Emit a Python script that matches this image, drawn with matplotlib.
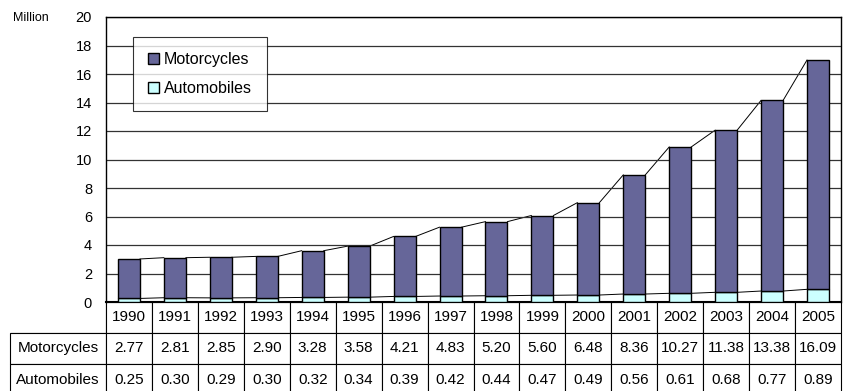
import matplotlib.pyplot as plt

plt.rcParams['font.family'] = ['Liberation Sans', 'DejaVu Sans']

YEARS = [str(y) for y in range(1990, 2006)]
MOTORCYCLES = [2.77, 2.81, 2.85, 2.90, 3.28, 3.58, 4.21, 4.83, 5.20, 5.60,
               6.48, 8.36, 10.27, 11.38, 13.38, 16.09]
AUTOMOBILES = [0.25, 0.30, 0.29, 0.30, 0.32, 0.34, 0.39, 0.42, 0.44, 0.47,
               0.49, 0.56, 0.61, 0.68, 0.77, 0.89]

MOTO_COLOR = '#666699'
AUTO_COLOR = '#ccffff'
BAR_WIDTH = 0.48


def series_lines(ax, tops):
    """Connect the top corners of neighbouring bars like Excel series lines."""
    half = BAR_WIDTH / 2
    for i in range(len(tops) - 1):
        ax.plot([i + half, i + 1 - half], [tops[i], tops[i + 1]],
                color='black', lw=0.7, zorder=1)


fig = plt.figure(figsize=(8.44, 3.91), dpi=100)
W, H = 844, 391
left, right, top, bottom = 106, 841, 17, 302
ax = fig.add_axes([left / W, 1 - bottom / H, (right - left) / W,
                   (bottom - top) / H])

x = list(range(len(YEARS)))
totals = [m + a for m, a in zip(MOTORCYCLES, AUTOMOBILES)]

ax.bar(x, AUTOMOBILES, BAR_WIDTH, color=AUTO_COLOR, edgecolor='black',
       lw=1.0, label='Automobiles', zorder=3)
ax.bar(x, MOTORCYCLES, BAR_WIDTH, bottom=AUTOMOBILES, color=MOTO_COLOR,
       edgecolor='black', lw=1.0, label='Motorcycles', zorder=3)
series_lines(ax, AUTOMOBILES)
series_lines(ax, totals)

ax.set_xlim(-0.5, len(YEARS) - 0.5)
ax.set_ylim(0, 20)
ax.set_yticks(range(0, 21, 2))
ax.tick_params(axis='y', length=0, labelsize=10.5, pad=10)
ax.set_xticks([])
ax.grid(axis='y', color='#333333', lw=0.9, zorder=0)
for side in ['top', 'left', 'right']:
    ax.spines[side].set_linewidth(1.0)
ax.spines['bottom'].set_linewidth(1.5)

fig.text(13 / W, 1 - 18 / H, 'Million', fontsize=9, va='center')

handles, labels = ax.get_legend_handles_labels()
leg = ax.legend(handles[::-1], labels[::-1], loc='upper left',
                bbox_to_anchor=((133 - left) / (right - left),
                                1 - (37 - top) / (bottom - top)),
                fontsize=11.5, frameon=True, fancybox=False, borderpad=0.95,
                handlelength=0.7, handleheight=0.7, handletextpad=0.3,
                labelspacing=0.85, borderaxespad=0)
leg.get_frame().set_edgecolor('black')
leg.get_frame().set_linewidth(0.8)

# data table under the plot
label_w = (106 - 10) / (right - left)
rows = [[''] + YEARS,
        ['Motorcycles'] + ['%.2f' % v for v in MOTORCYCLES],
        ['Automobiles'] + ['%.2f' % v for v in AUTOMOBILES]]
col_w = [label_w] + [1 / len(YEARS)] * len(YEARS)
row_h = 31 / (bottom - top)
tbl = ax.table(cellText=rows, colWidths=col_w, cellLoc='center',
               bbox=[-label_w, -3 * row_h, 1 + label_w, 3 * row_h])
tbl.auto_set_font_size(False)
tbl.set_fontsize(11)
for (r, c), cell in tbl.get_celld().items():
    cell.set_linewidth(0.8)
    if r == 0 and c == 0:
        cell.visible_edges = 'BR'

fig.savefig('out.png', dpi=100)
